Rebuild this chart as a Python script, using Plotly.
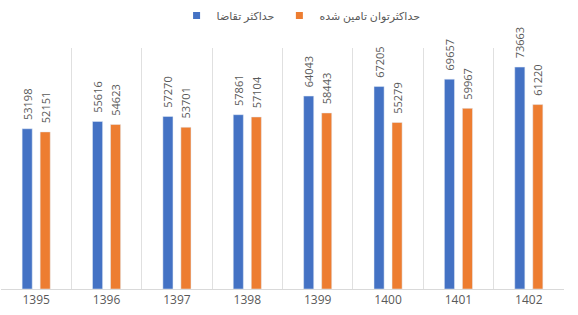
import plotly.graph_objects as go

years = ["1395", "1396", "1397", "1398", "1399", "1400", "1401", "1402"]
demand = [53198, 55616, 57270, 57861, 64043, 67205, 69657, 73663]
supplied = [52151, 54623, 53701, 57104, 58443, 55279, 59967, 61220]
name_demand = "حداکثر تقاضا"
name_supplied = "حداکثرتوان تامین شده"
blue = "#4472C4"
orange = "#ED7D31"

lab_font = dict(family="Open Sans, DejaVu Sans", size=11, color="#595959")
pad = "\u00a0\u00a0"

fig = go.Figure()
fig.add_trace(go.Bar(x=years, y=demand, name=name_demand, marker_color=blue,
                     texttemplate=pad + "%{y:d}", textposition="outside",
                     textangle=-90, textfont=lab_font, cliponaxis=False,
                     constraintext="none", showlegend=False))
fig.add_trace(go.Bar(x=years, y=supplied, name=name_supplied, marker_color=orange,
                     texttemplate=pad + "%{y:d}", textposition="outside",
                     textangle=-90, textfont=lab_font, cliponaxis=False,
                     constraintext="none", showlegend=False))
# legend-only entries with small square markers
for nm, col in [(name_demand, blue), (name_supplied, orange)]:
    fig.add_trace(go.Scatter(x=[None], y=[None], mode="markers", name=nm,
                             marker=dict(symbol="square", size=7, color=col)))

fig.update_layout(
    width=578, height=315,
    margin=dict(l=1, r=14, t=45, b=26),
    paper_bgcolor="white", plot_bgcolor="white",
    barmode="group", bargap=0.488, bargroupgap=0.44,
    showlegend=True,
    legend=dict(orientation="h", x=0.533, xanchor="center", y=1.075, yanchor="bottom",
                font=dict(family="Open Sans, DejaVu Sans", size=11, color="#595959"),
                itemwidth=30, traceorder="normal", tracegroupgap=0),
)
fig.update_xaxes(type="category", tickson="boundaries", showgrid=True, gridcolor="#E0E0E0",
                 gridwidth=1, showline=True, linecolor="#D9D9D9", ticks="",
                 tickfont=dict(family="Open Sans, DejaVu Sans", size=12, color="#595959"))
fig.update_yaxes(range=[0, 80000], showgrid=False, showticklabels=False, zeroline=False,
                 showline=False)

fig.write_html("out.html")
